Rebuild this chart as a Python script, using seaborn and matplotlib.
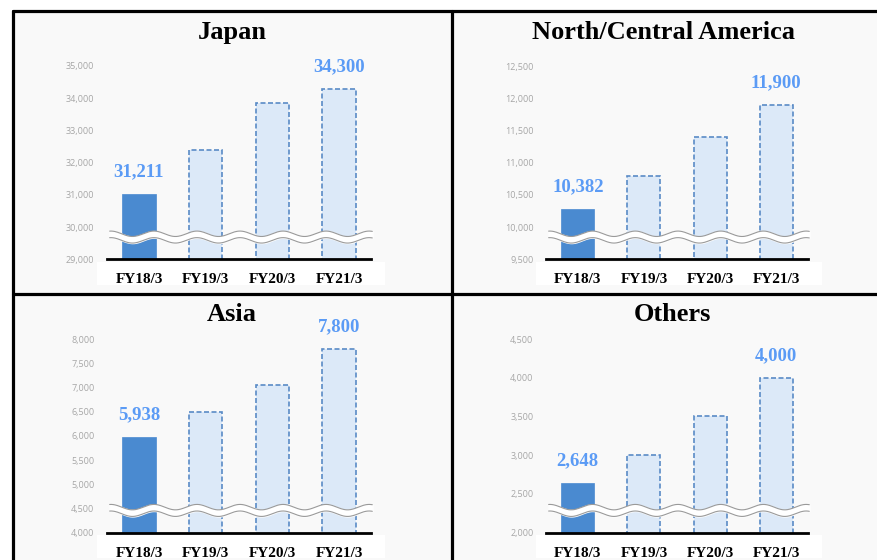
import numpy as np
import pandas as pd
import seaborn as sns
import matplotlib.pyplot as plt
from matplotlib.lines import Line2D
from matplotlib.patches import Rectangle
from matplotlib.ticker import FuncFormatter

sns.set_theme(style="white")
plt.rcParams["font.family"] = ["Liberation Serif", "DejaVu Serif"]

# Data (bar heights as drawn)
years = ["FY18/3", "FY19/3", "FY20/3", "FY21/3"]
regions = ["Japan", "North/Central America", "Asia", "Others"]
japan = [31030, 32400, 33850, 34300]
north_central_america = [10280, 10800, 11400, 11900]
asia = [5980, 6500, 7060, 7800]
others = [2640, 3000, 3500, 4000]
first_labels = ["31,211", "10,382", "5,938", "2,648"]
last_labels = ["34,300", "11,900", "7,800", "4,000"]
y_limits = [(29000, 35000, 1000), (9500, 12500, 500), (4000, 8000, 500), (2000, 4500, 500)]

ACTUAL = "#4a8ad0"
PLAN = "#dce9f8"
PLAN_EDGE = "#5a8bc6"
LABEL_BLUE = "#5b9bf5"

W, H = 878, 560
fig = plt.figure(figsize=(W / 100, H / 100), dpi=100)
fig.patch.set_facecolor("white")

# panel background and frame
fig.add_artist(Rectangle((13.5 / W, 0), 1, 1 - 10.5 / H, transform=fig.transFigure,
                         facecolor="#f9f9f9", edgecolor="none", zorder=-10))
frame_kw = dict(color="black", linewidth=2.3, transform=fig.transFigure, zorder=5)
fig.add_artist(Line2D([13.5 / W, 1], [1 - 10.5 / H] * 2, **frame_kw))
fig.add_artist(Line2D([13.5 / W] * 2, [0, 1 - 10.5 / H], **frame_kw))
fig.add_artist(Line2D([452 / W] * 2, [0, 1 - 10.5 / H], **frame_kw))
fig.add_artist(Line2D([13.5 / W, 1], [1 - 293.5 / H] * 2, **frame_kw))

positions = [
    [107 / W, 1 - 259.3 / H, 264 / W, 193.3 / H],
    [546 / W, 1 - 259.3 / H, 262 / W, 193.3 / H],
    [107 / W, 1 - 532.7 / H, 264 / W, 193.7 / H],
    [546 / W, 1 - 532.7 / H, 262 / W, 193.7 / H],
]
title_xy = [(0.473, 1.171), (0.450, 1.171), (0.472, 1.124), (0.481, 1.129)]
series = [japan, north_central_america, asia, others]

for i, (region, values) in enumerate(zip(regions, series)):
    ax = fig.add_axes(positions[i])
    ax.set_facecolor("none")
    df = pd.DataFrame({"Year": years, "Sales": values})
    sns.barplot(data=df, x="Year", y="Sales", hue="Year",
                palette=[ACTUAL, PLAN, PLAN, PLAN], width=0.5, saturation=1,
                legend=False, ax=ax, zorder=2)
    for j, bar in enumerate(ax.patches):
        if j == 0:
            bar.set_edgecolor(ACTUAL)
            bar.set_linewidth(0.5)
        else:
            bar.set_edgecolor(PLAN_EDGE)
            bar.set_linewidth(1.2)
            bar.set_linestyle((0, (3, 1.5)))

    lo, hi, step = y_limits[i]
    ax.set_ylim(lo, hi)
    ax.set_xlim(-0.48, 3.48)
    ax.set_yticks(np.arange(lo, hi + 1, step))
    ax.yaxis.set_major_formatter(FuncFormatter(lambda v, p: f"{int(v):,}"))
    ax.tick_params(axis="y", length=0, pad=9, labelsize=6.5, labelcolor="#a6a6a6")
    for t in ax.get_yticklabels():
        t.set_fontfamily(["Open Sans", "DejaVu Sans"])
    ax.tick_params(axis="x", length=0, pad=10)
    for t in ax.get_xticklabels():
        t.set_fontweight("bold")
        t.set_fontsize(11)
        t.set_color("black")
    ax.set_xlabel("")
    ax.set_ylabel("")
    for s in ["top", "right", "left"]:
        ax.spines[s].set_visible(False)
    ax.spines["bottom"].set_color("black")
    ax.spines["bottom"].set_linewidth(2)
    ax.spines["bottom"].set_zorder(4)

    # white band behind the category labels
    ax.add_patch(Rectangle((-0.038, -0.133), 1.09, 0.12, transform=ax.transAxes,
                           facecolor="white", edgecolor="none", clip_on=False, zorder=0))

    # axis break wave
    xs = np.linspace(0.01, 1.005, 300)
    wave = 0.115 + 0.014 * np.sin(2 * np.pi * xs / 0.163 + 1.0)
    ax.fill_between(xs, wave - 0.017, wave + 0.017, transform=ax.transAxes,
                    color="white", zorder=3, clip_on=False)
    ax.plot(xs, wave - 0.017, transform=ax.transAxes, color="#9a9a9a", lw=0.8,
            zorder=3, clip_on=False)
    ax.plot(xs, wave + 0.017, transform=ax.transAxes, color="#9a9a9a", lw=0.8,
            zorder=3, clip_on=False)

    # value labels for actual and final plan
    for j, txt in [(0, first_labels[i]), (3, last_labels[i])]:
        ax.annotate(txt, (j, values[j]), xytext=(0, 16), textcoords="offset points",
                    ha="center", va="center", fontsize=13.5, fontweight="bold",
                    color=LABEL_BLUE, annotation_clip=False)

    tx, ty = title_xy[i]
    ax.text(tx, ty, region, transform=ax.transAxes, ha="center", va="center",
            fontsize=19, fontweight="bold", color="black")

fig.savefig("out.png", dpi=100)
